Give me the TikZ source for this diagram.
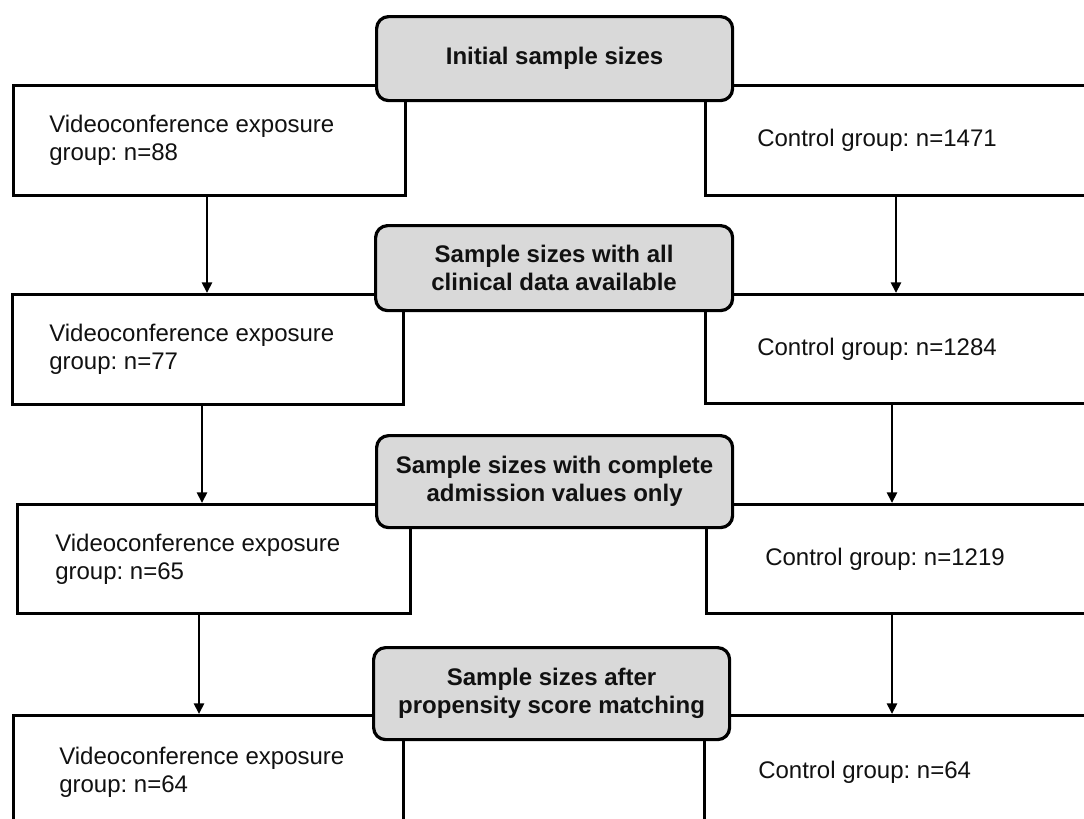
\documentclass[tikz,border=0pt]{standalone}
\usepackage{fontspec}
\setmainfont{Liberation Sans}
\usetikzlibrary{arrows.meta}
\definecolor{greyfill}{HTML}{D9D9D9}
\definecolor{inkc}{HTML}{111111}
\frenchspacing
\begin{document}
\begin{tikzpicture}[x=0.75pt,y=-0.75pt,
  wbox/.style={draw=black,fill=white,line width=2.3pt,inner sep=0pt,anchor=north west},
  gbox/.style={draw=black,fill=greyfill,line width=2.4pt,rounded corners=9pt,inner sep=0pt,anchor=north west,
    align=center,text=inkc,font=\fontsize{18pt}{21pt}\selectfont\bfseries},
  txt/.style={inner sep=0pt,anchor=west,align=left,text=inkc,font=\fontsize{18pt}{21pt}\selectfont},
  arr/.style={draw=black,line width=2pt,-{Triangle[width=7.5pt,length=8pt]}}]
\clip (0,0) rectangle (1084,818);
\fill[white] (0,0) rectangle (1084,818);
% white boxes
\node[wbox,minimum width=294pt,minimum height=82.5pt] (L1) at (12,84) {};
\node[wbox,minimum width=315pt,minimum height=82.5pt] (R1) at (704,84) {};
\node[wbox,minimum width=293.25pt,minimum height=82.5pt] (L2) at (11,293) {};
\node[wbox,minimum width=315pt,minimum height=81.75pt] (R2) at (704,293) {};
\node[wbox,minimum width=294.75pt,minimum height=81.75pt] (L3) at (16,503) {};
\node[wbox,minimum width=315pt,minimum height=81.75pt] (R3) at (705,503) {};
\node[wbox,minimum width=292.5pt,minimum height=85.5pt] (L4) at (12,714) {};
\node[wbox,minimum width=315pt,minimum height=85.5pt] (R4) at (703,714) {};
% texts
\node[txt] (L1t) at ([xshift=27.75pt]L1.west) {Videoconference exposure\\group: n=88};
\node[txt] (R1t) at ([xshift=39.75pt]R1.west) {Control group: n=1471};
\node[txt] (L2t) at ([xshift=28.5pt]L2.west) {Videoconference exposure\\group: n=77};
\node[txt] (R2t) at ([xshift=39.75pt]R2.west) {Control group: n=1284};
\node[txt] (L3t) at ([xshift=29.25pt]L3.west) {Videoconference exposure\\group: n=65};
\node[txt] (R3t) at ([xshift=45pt]R3.west) {Control group: n=1219};
\node[txt] (L4t) at ([xshift=35.25pt]L4.west) {Videoconference exposure\\group: n=64};
\node[txt] (R4t) at ([xshift=41.25pt]R4.west) {Control group: n=64};
% grey header boxes
\node[gbox,minimum width=267pt,minimum height=63pt] (G1) at (375,15) {Initial sample sizes};
\node[gbox,minimum width=267.75pt,minimum height=63.75pt] (G2) at (374,224) {Sample sizes with all\\clinical data available};
\node[gbox,minimum width=267pt,minimum height=69pt] (G3) at (375,434) {Sample sizes with complete\\admission values only};
\node[gbox,minimum width=267pt,minimum height=69pt] (G4) at (372,646) {Sample sizes after\\propensity score matching};
% arrows
\coordinate (a1l) at (207,0);
\coordinate (a1r) at (896,0);
\coordinate (a2l) at (202,0);
\coordinate (a2r) at (892,0);
\coordinate (a3l) at (199,0);
\coordinate (a3r) at (892,0);
\draw[arr] (L1.south -| a1l) -- (L2.north -| a1l);
\draw[arr] (R1.south -| a1r) -- (R2.north -| a1r);
\draw[arr] (L2.south -| a2l) -- (L3.north -| a2l);
\draw[arr] (R2.south -| a2r) -- (R3.north -| a2r);
\draw[arr] (L3.south -| a3l) -- (L4.north -| a3l);
\draw[arr] (R3.south -| a3r) -- (R4.north -| a3r);
\end{tikzpicture}
\end{document}
